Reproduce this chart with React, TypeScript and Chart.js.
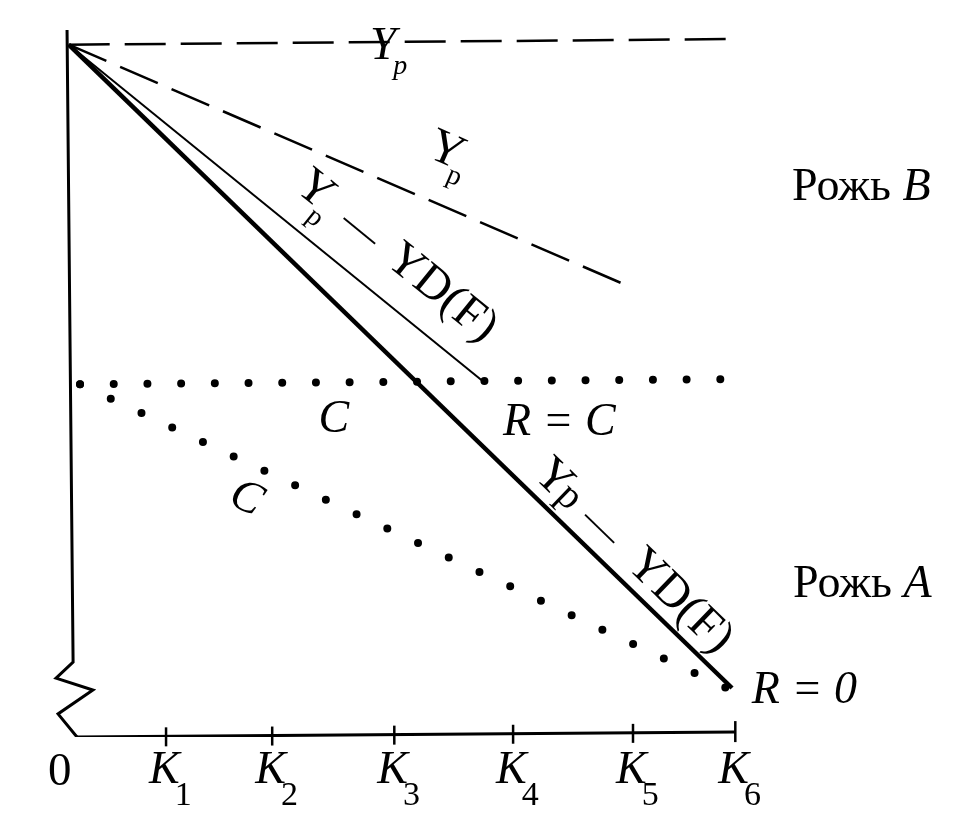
import React, { useEffect, useRef } from "react";
import { Chart, registerables } from "chart.js";

Chart.register(...registerables);

// ---- data (abstract units; origin at the corner of the axes) ----
const kTickValues = [0.855, 1.82, 2.93, 4.01, 5.1, 6.03];
const kTickSubs = ["1", "2", "3", "4", "5", "6"];
const originLabel = "0";

const ypFlat = [
  { x: -0.03, y: 98.9 },
  { x: 5.96, y: 99.7 },
];
const ypSlope = [
  { x: -0.03, y: 98.9 },
  { x: 5.03, y: 64.6 },
];
const ypMinusYdThin = [
  { x: -0.03, y: 98.9 },
  { x: 3.73, y: 50.9 },
];
const ypMinusYdThick = [
  { x: -0.03, y: 98.9 },
  { x: 6.0, y: 7.0 },
];
const costFlat = [
  { x: 0.073, y: 50.4 },
  { x: 5.91, y: 51.1 },
];
const costSlope = [
  { x: 0.073, y: 50.4 },
  { x: 5.95, y: 7.0 },
];
const yAxisPath = [
  { x: -0.045, y: 101 },
  { x: 0.01, y: 10.7 },
  { x: -0.145, y: 8.4 },
  { x: 0.19, y: 6.7 },
  { x: -0.127, y: 3.3 },
  { x: 0.045, y: 0 },
];
const xAxisPath = [
  { x: 0.045, y: 0 },
  { x: 6.03, y: 0.7 },
];

const SERIF = "'Liberation Serif', 'Times New Roman', serif";

type Part = { text: string; font: string; gap?: number; dy?: number };

function drawParts(ctx: CanvasRenderingContext2D, x: number, y: number, angle: number, parts: Part[]) {
  ctx.save();
  ctx.translate(x, y);
  ctx.rotate(angle);
  ctx.textAlign = "left";
  ctx.textBaseline = "alphabetic";
  let cx = 0;
  for (const p of parts) {
    cx += p.gap || 0;
    ctx.font = p.font;
    ctx.fillText(p.text, cx, p.dy || 0);
    cx += ctx.measureText(p.text).width;
  }
  ctx.restore();
}

const annotations = {
  id: "annotations",
  afterDatasetsDraw(chart: any) {
    const ctx: CanvasRenderingContext2D = chart.ctx;
    const xs = chart.scales.x;
    const ys = chart.scales.y;
    const px = (v: number) => xs.getPixelForValue(v);
    const py = (v: number) => ys.getPixelForValue(v);
    const angleOf = (d: { x: number; y: number }[]) =>
      Math.atan2(py(d[1].y) - py(d[0].y), px(d[1].x) - px(d[0].x));

    ctx.save();
    ctx.fillStyle = "#000";
    ctx.strokeStyle = "#000";

    // x axis ticks and labels
    const a = xAxisPath[0];
    const b = xAxisPath[1];
    kTickValues.forEach((v, i) => {
      const t = (v - a.x) / (b.x - a.x);
      const yv = a.y + t * (b.y - a.y);
      const X = px(v);
      const Y = py(yv);
      const last = i === kTickValues.length - 1;
      ctx.lineWidth = 2.5;
      ctx.beginPath();
      ctx.moveTo(X, Y - (last ? 11 : 9));
      ctx.lineTo(X, Y + 10);
      ctx.stroke();
      drawParts(ctx, X - 17, py(0) + 46, 0, [
        { text: "K", font: `italic 46px ${SERIF}` },
        { text: kTickSubs[i], font: `34px ${SERIF}`, gap: -5, dy: 22 },
      ]);
    });
    ctx.font = `47px ${SERIF}`;
    ctx.textAlign = "left";
    ctx.fillText(originLabel, px(0) - 24, py(0) + 48);

    // Yp on the flat dashed line
    drawParts(ctx, px(2.71), py(96.86), 0, [
      { text: "Y", font: `italic 47px ${SERIF}` },
      { text: "p", font: `italic 28px ${SERIF}`, gap: -3, dy: 15 },
    ]);
    // Yp on the sloping dashed line
    drawParts(ctx, px(3.211), py(82.99), angleOf(ypSlope), [
      { text: "Y", font: `48px ${SERIF}` },
      { text: "p", font: `28px ${SERIF}`, gap: -7, dy: 15 },
    ]);
    // Yp − YD(F) on the thin line
    drawParts(ctx, px(2.011), py(78.26), angleOf(ypMinusYdThin), [
      { text: "Y", font: `48px ${SERIF}` },
      { text: "p", font: `28px ${SERIF}`, gap: -7, dy: 16 },
      { text: "—", font: `40px ${SERIF}`, gap: 16 },
      { text: "YD(F)", font: `48px ${SERIF}`, gap: 19 },
    ]);
    // Yp − YD(F) on the thick line
    drawParts(ctx, px(4.179), py(37.33), angleOf(ypMinusYdThick), [
      { text: "Y", font: `48px ${SERIF}` },
      { text: "p", font: `40px ${SERIF}`, gap: -3 },
      { text: "—", font: `40px ${SERIF}`, gap: 14 },
      { text: "YD(F)", font: `48px ${SERIF}`, gap: 24 },
    ]);

    // C labels
    ctx.font = `italic 46px ${SERIF}`;
    ctx.textAlign = "left";
    ctx.textBaseline = "alphabetic";
    ctx.fillText("C", px(2.24), py(43.57));
    ctx.save();
    ctx.translate(px(1.59), py(34.3));
    ctx.rotate(angleOf(costSlope));
    ctx.textAlign = "center";
    ctx.textBaseline = "middle";
    ctx.fillText("C", 0, 2);
    ctx.restore();

    ctx.textAlign = "left";
    ctx.textBaseline = "alphabetic";
    ctx.fillText("R = C", px(3.918), py(43.14));
    ctx.fillText("R = 0", px(6.18), py(4.86));

    drawParts(ctx, px(6.545), py(76.7), 0, [
      { text: "Рожь ", font: `46px ${SERIF}` },
      { text: "B", font: `italic 46px ${SERIF}` },
    ]);
    drawParts(ctx, px(6.555), py(20.0), 0, [
      { text: "Рожь ", font: `46px ${SERIF}` },
      { text: "A", font: `italic 46px ${SERIF}` },
    ]);

    ctx.restore();
  },
};

export default function App() {
  const ref = useRef<HTMLCanvasElement | null>(null);

  useEffect(() => {
    if (!ref.current) return;
    const dashed = [41, 15];
    const chart = new Chart(ref.current, {
      type: "line",
      data: {
        datasets: [
          { label: "y-axis", data: yAxisPath, borderColor: "#000", borderWidth: 3, borderJoinStyle: "miter" },
          { label: "x-axis", data: xAxisPath, borderColor: "#000", borderWidth: 3 },
          { label: "Yp flat", data: ypFlat, borderColor: "#000", borderWidth: 2.5, borderDash: dashed },
          { label: "Yp slope", data: ypSlope, borderColor: "#000", borderWidth: 2.5, borderDash: dashed },
          { label: "Yp - YD(F) B", data: ypMinusYdThin, borderColor: "#000", borderWidth: 2 },
          { label: "Yp - YD(F) A", data: ypMinusYdThick, borderColor: "#000", borderWidth: 4.5 },
          {
            label: "C flat",
            data: costFlat,
            borderColor: "#000",
            borderWidth: 8,
            borderDash: [0, 33.7],
            borderCapStyle: "round",
          },
          {
            label: "C slope",
            data: costSlope,
            borderColor: "#000",
            borderWidth: 8,
            borderDash: [0, 33.95],
            borderCapStyle: "round",
          },
        ] as any,
      },
      options: {
        responsive: false,
        animation: false,
        layout: { padding: { left: 17, right: 24, top: 2, bottom: 79 } },
        plugins: { legend: { display: false }, tooltip: { enabled: false } },
        elements: { point: { radius: 0 }, line: { tension: 0 } },
        scales: {
          x: { type: "linear", min: -0.5, max: 8, display: false },
          y: { type: "linear", min: 0, max: 105, display: false },
        },
      },
      plugins: [annotations],
    });
    return () => chart.destroy();
  }, []);

  return (
    <div style={{ position: "fixed", left: 0, top: 0, width: 976, height: 816, background: "#fff" }}>
      <canvas ref={ref} width={976} height={816} style={{ display: "block" }} />
    </div>
  );
}
